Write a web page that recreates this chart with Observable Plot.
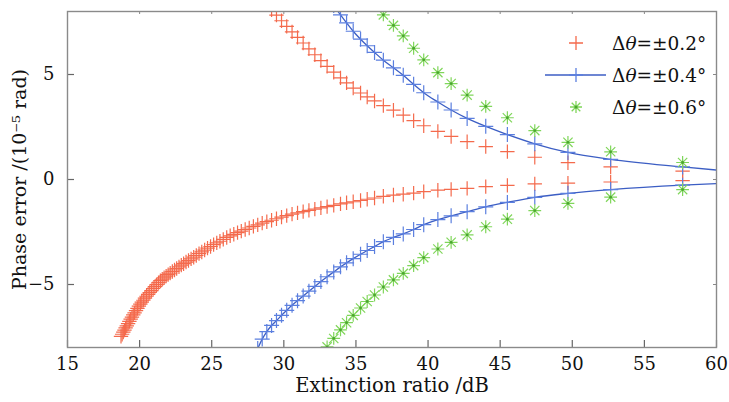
<!DOCTYPE html>
<html><head><meta charset="utf-8">
<script src="https://cdn.jsdelivr.net/npm/d3@7"></script>
<script src="https://cdn.jsdelivr.net/npm/@observablehq/plot@0.6"></script>
<style>
html,body{margin:0;padding:0;background:#fff;}
#chart{width:729px;height:402px;}
</style></head><body><div id="chart"></div>
<script>
// Extinction ratio (dB) of each sample, shared by all series
const er = [18.71,18.79,18.87,18.95,19.03,19.11,19.2,19.29,19.38,19.47,19.56,19.65,19.75,19.85,19.95,20.05,
  20.15,20.26,20.37,20.48,20.59,20.7,20.82,20.94,21.06,21.18,21.31,21.44,
  21.57,21.7,21.84,21.98,22.12,22.27,22.42,22.57,22.73,22.89,23.05,23.22,23.39,23.57,23.75,
  23.93,24.12,24.31,24.51,24.71,24.92,25.13,25.35,25.57,25.8,26.04,
  26.28,26.53,26.79,27.05,27.32,27.6,27.89,28.19,
  28.5,28.82,29.15,29.49,29.84,30.2,30.57,
  30.95,31.34,31.74,32.15,32.57,33.0,
  33.46,33.93,34.35,34.81,35.32,35.78,36.29,36.9,37.6,38.28,39.0,39.7,40.68,41.6,42.71,44.0,45.5,47.4,49.7,52.66,57.65];

// Δθ = ±0.2°  (lower branch: all samples; upper branch: from er[63])
const redLow = [-7.47,-7.37,-7.27,-7.17,-7.07,-6.97,-6.86,-6.76,-6.65,-6.55,-6.45,-6.35,-6.24,-6.14,-6.03,-5.93,
  -5.84,-5.75,-5.65,-5.56,-5.47,-5.38,-5.29,-5.19,-5.10,-5.01,-4.91,-4.82,
  -4.75,-4.68,-4.60,-4.53,-4.46,-4.38,-4.31,-4.24,-4.16,-4.08,-4.01,-3.93,-3.86,-3.78,-3.70,
  -3.62,-3.53,-3.45,-3.36,-3.27,-3.19,-3.10,-3.02,-2.94,-2.85,-2.76,
  -2.68,-2.61,-2.53,-2.46,-2.38,-2.31,-2.23,-2.16,
  -2.08,-2.01,-1.94,-1.87,-1.79,-1.72,-1.65,
  -1.59,-1.53,-1.47,-1.41,-1.35,-1.29,
  -1.23,-1.16,-1.11,-1.06,-1.00,-0.94,-0.88,-0.80,-0.74,-0.70,-0.65,-0.58,-0.51,-0.47,-0.42,-0.34,-0.28,-0.21,-0.17,-0.12,-0.05];
const redHigh = [8.35,8.08,7.83,7.56,7.29,7.03,6.77,6.50,6.22,5.94,5.66,5.39,5.11,4.84,4.60,4.35,4.12,3.93,3.74,3.52,3.30,3.07,2.80,2.56,2.29,2.05,1.80,1.57,1.33,1.06,0.80,0.60,0.40];

// Δθ = ±0.4°  (lower branch from er[61]; upper branch from er[75]); fitted line runs on to 60 dB
const blueLow = [-8.05,-7.60,-7.24,-6.95,-6.72,-6.47,-6.23,-5.99,-5.77,-5.55,-5.32,-5.09,-4.86,-4.63,-4.40,-4.16,-3.97,-3.77,-3.56,-3.38,-3.19,-2.96,-2.76,-2.59,-2.38,-2.15,-1.91,-1.73,-1.53,-1.30,-1.09,-0.85,-0.66,-0.48,-0.27];
const blueHigh = [8.28,7.84,7.46,7.06,6.68,6.37,6.05,5.68,5.32,4.96,4.53,4.13,3.69,3.31,2.91,2.53,2.14,1.70,1.29,0.96,0.60];
const blueEndX = 60, blueEndHigh = 0.45, blueEndLow = -0.20;

// Δθ = ±0.6°  (lower branch from er[73]; upper branch from er[81])
const greenLow = [-8.36,-7.97,-7.57,-7.16,-6.82,-6.47,-6.12,-5.81,-5.50,-5.12,-4.78,-4.47,-4.10,-3.72,-3.31,-2.99,-2.64,-2.25,-1.89,-1.48,-1.14,-0.84,-0.48];
const greenHigh = [8.36,7.84,7.34,6.84,6.25,5.70,5.09,4.57,4.02,3.48,2.94,2.33,1.77,1.32,0.81];

const xTicks = [15,20,25,30,35,40,45,50,55,60];
const yTicks = [-5,0,5];
const legendValues = ["0.2°","0.4°","0.6°"];

const RED = "#f46a4c", BLUE = "#5b7fdf", BLUELINE = "#3c5ec4", GREEN = "#80d65b", GREENDARK = "#4aa62f";
const FONT = "DejaVu Serif";

const pts = (xs, ys) => ys.map((y, i) => ({x: xs[i], y}));
const redLowPts = pts(er, redLow);
const redHighPts = pts(er.slice(63), redHigh);
const blueLowPts = pts(er.slice(61), blueLow);
const blueHighPts = pts(er.slice(75), blueHigh);
const greenLowPts = pts(er.slice(73), greenLow);
const greenHighPts = pts(er.slice(81), greenHigh);
const blueHighLine = blueHighPts.concat([{x: blueEndX, y: blueEndHigh}]);
const blueLowLine = blueLowPts.concat([{x: blueEndX, y: blueEndLow}]);
const greenPts = greenLowPts.concat(greenHighPts);

function legend(index, scales, values, dims) {
  const g = d3.create("svg:g").attr("font-family", FONT).attr("font-size", 18.5).attr("fill", "#111").attr("text-anchor", "start");
  const x0 = 576, tx = 612, ys = [43, 75, 107];
  ys.forEach((y, i) => {
    if (i === 0) {
      g.append("path").attr("d", `M${x0-7},${y}H${x0+7}M${x0},${y-7}V${y+7}`).attr("stroke", RED).attr("stroke-width", 1.3);
    } else if (i === 1) {
      g.append("path").attr("d", `M${x0-31},${y}H${x0+30}`).attr("stroke", BLUELINE).attr("stroke-width", 1.3);
      g.append("path").attr("d", `M${x0-7},${y}H${x0+7}M${x0},${y-7}V${y+7}`).attr("stroke", BLUE).attr("stroke-width", 1.3);
    } else {
      g.append("path").attr("d", `M${x0-6},${y}H${x0+6}M${x0},${y-6}V${y+6}M${x0-4.3},${y-4.3}L${x0+4.3},${y+4.3}M${x0-4.3},${y+4.3}L${x0+4.3},${y-4.3}`).attr("stroke", GREEN).attr("stroke-width", 1.3);
      g.append("circle").attr("cx", x0).attr("cy", y).attr("r", 1.5).attr("fill", GREENDARK);
    }
    const t = g.append("text").attr("x", tx).attr("y", y + 7);
    t.append("tspan").text("Δ");
    t.append("tspan").attr("font-style", "italic").text("θ");
    t.append("tspan").text("=±" + legendValues[i]);
  });
  return g.node();
}

const chart = Plot.plot({
  width: 729, height: 402,
  marginLeft: 67, marginRight: 13, marginTop: 11, marginBottom: 55,
  x: {domain: [15, 60]},
  y: {domain: [-8, 8]},
  style: {fontFamily: FONT, fontSize: "18px", color: "#111", background: "#fff", overflow: "visible"},
  marks: [
    // inward ticks on all four sides
    Plot.tickX(xTicks, {x: d => d, insetTop: 329, stroke: "#666", strokeWidth: 1.2}),
    Plot.tickX(xTicks, {x: d => d, insetBottom: 333, stroke: "#888", strokeWidth: 1}),
    Plot.tickY(yTicks, {y: d => d, insetRight: 642, stroke: "#666", strokeWidth: 1.2}),
    Plot.tickY(yTicks, {y: d => d, insetLeft: 646, stroke: "#888", strokeWidth: 1}),
    Plot.axisX(xTicks, {tickSize: 0, tickPadding: 10, label: null, fontSize: 18}),
    Plot.axisY(yTicks, {tickSize: 0, tickPadding: 13, label: null, fontSize: 18, tickFormat: d => d < 0 ? "\u2212" + Math.abs(d) : String(d)}),
    Plot.text(["Extinction ratio /dB"], {frameAnchor: "bottom", lineAnchor: "middle", textAnchor: "middle", dy: 38, fontSize: 19.5}),
    Plot.text(["Phase error /(10\u207B\u2075 rad)"], {frameAnchor: "left", lineAnchor: "middle", textAnchor: "middle", dx: -48, rotate: -90, fontSize: 19}),
    // ±0.4° fitted lines
    Plot.line(blueHighLine, {x: "x", y: "y", stroke: BLUELINE, strokeWidth: 1.3, curve: "monotone-x", clip: true}),
    Plot.line(blueLowLine, {x: "x", y: "y", stroke: BLUELINE, strokeWidth: 1.3, curve: "monotone-x", clip: true}),
    // markers
    Plot.dot(redLowPts.concat(redHighPts), {x: "x", y: "y", symbol: "plus", r: 4.7, stroke: RED, strokeWidth: 1.2, clip: true}),
    Plot.dot(blueLowPts.concat(blueHighPts), {x: "x", y: "y", symbol: "plus", r: 4.9, stroke: BLUE, strokeWidth: 1.2, clip: true}),
    Plot.dot(greenPts, {x: "x", y: "y", symbol: "plus", r: 4.2, stroke: GREEN, strokeWidth: 1.2, clip: true}),
    Plot.dot(greenPts, {x: "x", y: "y", symbol: "times", r: 4.3, stroke: GREEN, strokeWidth: 1.2, clip: true}),
    Plot.dot(greenPts, {x: "x", y: "y", r: 1.4, fill: GREENDARK, stroke: null, clip: true}),
    Plot.frame({stroke: "#8a8a8a", strokeWidth: 1.4}),
    legend
  ]
});
document.getElementById("chart").appendChild(chart);
</script></body></html>
